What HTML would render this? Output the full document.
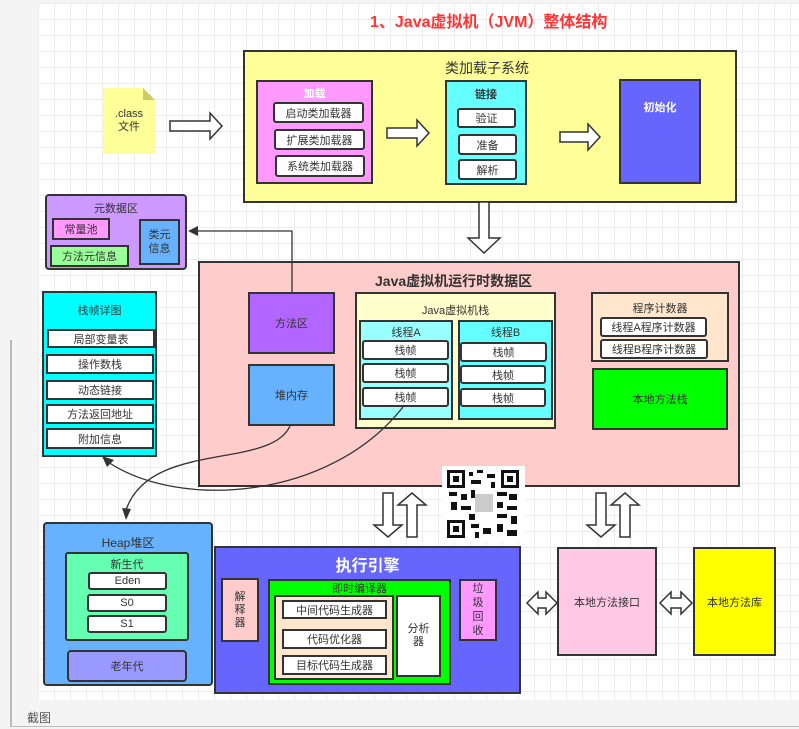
<!DOCTYPE html><html><head><meta charset="utf-8"><style>
body{margin:0;width:799px;height:729px;background:#f4f4f4;position:relative;overflow:hidden;font-family:"Liberation Sans","Noto Sans CJK SC",sans-serif;color:#333;}
.grid{position:absolute;left:38px;top:3px;width:761px;height:697px;background-color:#fff;background-image:linear-gradient(#ececec 1px,transparent 1px),linear-gradient(90deg,#ececec 1px,transparent 1px);background-size:16px 16px;}
.b{position:absolute;box-sizing:border-box;border:2px solid #333;font-size:11px;text-align:center;}
.w{background:#fff;border-radius:3px;display:flex;align-items:center;justify-content:center;}
.t{position:absolute;left:0;right:0;text-align:center;}
.c{display:flex;align-items:center;justify-content:center;}
</style></head><body>
<div class="grid"></div>
<div style="position:absolute;left:10px;top:340px;width:2px;height:386px;background:#bbb"></div>
<div style="position:absolute;left:10px;top:726px;width:789px;height:1px;background:#bbb"></div>
<div style="position:absolute;left:27px;top:709px;font-size:12px;color:#555">截图</div>
<div style="position:absolute;left:370px;top:8px;font-size:16px;font-weight:bold;color:#ff3333">1、Java虚拟机（JVM）整体结构</div>

<!-- class file -->
<svg style="position:absolute;left:0;top:0" width="799" height="729">
<path d="M103 88 H143 L155 100 V154 H103Z" fill="#ffff99"/><path d="M143 88 L155 100 H143Z" fill="#cccc66"/>
</svg>
<div style="position:absolute;left:103px;top:108px;width:52px;text-align:center;font-size:11px;line-height:13px">.class<br>文件</div>

<div class="b" style="left:243px;top:50px;width:494px;height:153px;background:#ffff99"></div>
<div style="position:absolute;left:445px;top:58px;font-size:14px">类加载子系统</div>
<div class="b" style="left:256px;top:80px;width:117px;height:104px;background:#ff99ff"><div class="t" style="top:3px;color:#fff;font-weight:bold">加载</div></div>
<div class="b w" style="left:273px;top:102px;width:91px;height:21px">启动类加载器</div>
<div class="b w" style="left:274px;top:129px;width:91px;height:21px">扩展类加载器</div>
<div class="b w" style="left:275px;top:155px;width:90px;height:22px">系统类加载器</div>
<div class="b" style="left:445px;top:80px;width:82px;height:105px;background:#66ffff"><div class="t" style="top:4px;font-weight:bold">链接</div></div>
<div class="b w" style="left:457px;top:108px;width:59px;height:20px">验证</div>
<div class="b w" style="left:458px;top:134px;width:59px;height:21px">准备</div>
<div class="b w" style="left:458px;top:159px;width:59px;height:21px">解析</div>
<div class="b" style="left:619px;top:79px;width:82px;height:105px;background:#6666ff"><div class="t" style="top:18px;color:#fff;font-weight:bold">初始化</div></div>

<!-- metadata -->
<div class="b" style="left:45px;top:194px;width:142px;height:76px;background:#cc99ff;border-radius:4px"><div class="t" style="top:4px">元数据区</div></div>
<div class="b c" style="left:52px;top:218px;width:58px;height:22px;background:#ff99ff">常量池</div>
<div class="b c" style="left:50px;top:245px;width:79px;height:22px;background:#99ff99">方法元信息</div>
<div class="b c" style="left:139px;top:219px;width:41px;height:46px;background:#66b2ff;line-height:14px">类元<br>信息</div>

<!-- runtime -->
<div class="b" style="left:198px;top:261px;width:542px;height:226px;background:#ffcccc"></div>
<div style="position:absolute;left:375px;top:271px;font-size:14px;font-weight:bold">Java虚拟机运行时数据区</div>
<div class="b c" style="left:248px;top:292px;width:87px;height:62px;background:#b266ff">方法区</div>
<div class="b c" style="left:248px;top:364px;width:87px;height:62px;background:#66b2ff">堆内存</div>
<div class="b" style="left:355px;top:292px;width:201px;height:137px;background:#ffffcc"><div class="t" style="top:8px">Java虚拟机栈</div></div>
<div class="b" style="left:359px;top:320px;width:94px;height:100px;background:#99ffff"><div class="t" style="top:2px">线程A</div></div>
<div class="b w" style="left:362px;top:340px;width:87px;height:20px">栈帧</div>
<div class="b w" style="left:362px;top:363px;width:87px;height:20px">栈帧</div>
<div class="b w" style="left:362px;top:387px;width:87px;height:20px">栈帧</div>
<div class="b" style="left:458px;top:320px;width:95px;height:100px;background:#66ffff"><div class="t" style="top:2px">线程B</div></div>
<div class="b w" style="left:460px;top:342px;width:87px;height:20px">栈帧</div>
<div class="b w" style="left:460px;top:365px;width:86px;height:19px">栈帧</div>
<div class="b w" style="left:460px;top:388px;width:86px;height:19px">栈帧</div>
<div class="b" style="left:591px;top:292px;width:138px;height:70px;background:#ffe6cc"><div class="t" style="top:6px">程序计数器</div></div>
<div class="b w" style="left:600px;top:317px;width:107px;height:20px">线程A程序计数器</div>
<div class="b w" style="left:600px;top:339px;width:108px;height:20px">线程B程序计数器</div>
<div class="b c" style="left:592px;top:368px;width:136px;height:62px;background:#00ff00">本地方法栈</div>

<!-- stack frame detail -->
<div class="b" style="left:42px;top:291px;width:115px;height:166px;background:#00ffff"><div class="t" style="top:9px">栈帧详图</div></div>
<div class="b w" style="left:47px;top:329px;width:108px;height:19px;border-radius:0">局部变量表</div>
<div class="b w" style="left:46px;top:354px;width:108px;height:20px;border-radius:0">操作数栈</div>
<div class="b w" style="left:46px;top:380px;width:108px;height:20px;border-radius:0">动态链接</div>
<div class="b w" style="left:46px;top:404px;width:108px;height:20px;border-radius:0">方法返回地址</div>
<div class="b w" style="left:46px;top:428px;width:108px;height:21px;border-radius:0">附加信息</div>

<!-- heap -->
<div class="b" style="left:43px;top:522px;width:170px;height:164px;background:#66b2ff;border-radius:4px"><div class="t" style="top:10px;font-size:12px">Heap堆区</div></div>
<div class="b" style="left:65px;top:552px;width:124px;height:89px;background:#66ffb2;border-radius:3px"><div class="t" style="top:2px">新生代</div></div>
<div class="b w" style="left:88px;top:572px;width:79px;height:18px">Eden</div>
<div class="b w" style="left:87px;top:594px;width:80px;height:18px">S0</div>
<div class="b w" style="left:87px;top:615px;width:80px;height:18px">S1</div>
<div class="b c" style="left:67px;top:650px;width:120px;height:32px;background:#9999ff;border-radius:4px">老年代</div>

<!-- execution engine -->
<div class="b" style="left:214px;top:546px;width:307px;height:148px;background:#6666ff"><div class="t" style="top:4px;color:#fff;font-weight:bold;font-size:16px">执行引擎</div></div>
<div class="b c" style="left:221px;top:578px;width:38px;height:64px;background:#ffcccc;line-height:13px">解<br>释<br>器</div>
<div class="b" style="left:268px;top:579px;width:183px;height:106px;background:#00ff00"><div class="t" style="top:-1px">即时编译器</div></div>
<div class="b" style="left:274px;top:595px;width:120px;height:85px;background:#ffe6cc"></div>
<div class="b w" style="left:282px;top:600px;width:105px;height:19px;border-radius:0">中间代码生成器</div>
<div class="b w" style="left:282px;top:629px;width:105px;height:20px;border-radius:0">代码优化器</div>
<div class="b w" style="left:282px;top:655px;width:105px;height:20px;border-radius:0">目标代码生成器</div>
<div class="b c" style="left:396px;top:595px;width:45px;height:82px;background:#fff;line-height:13px">分析<br>器</div>
<div class="b c" style="left:459px;top:579px;width:38px;height:62px;background:#ff99ff;line-height:14px">垃<br>圾<br>回<br>收</div>

<div class="b c" style="left:557px;top:547px;width:100px;height:109px;background:#ffc9e6">本地方法接口</div>
<div class="b c" style="left:693px;top:547px;width:83px;height:109px;background:#ffff00">本地方法库</div>

<svg style="position:absolute;left:0;top:0" width="799" height="729" fill="#fff" stroke="#333" stroke-width="1.5">
<path d="M170 121 H210 V113 L222 126 L210 139 V131 H170Z"/>
<path d="M387 128 H417 V120 L429 133 L417 146 V138 H387Z"/>
<path d="M560 132 H588 V124 L600 137 L588 150 V142 H560Z"/>
<path d="M479 202 H489 V238 H500 L484 253 L468 238 H479Z"/>
<!-- vertical arrows -->
<path d="M383 493 H393 V525 H402 L388 537 L374 525 H383Z"/>
<path d="M407 537 H417 V505 H426 L412 493 L398 505 H407Z"/>
<path d="M596 493 H606 V525 H615 L601 537 L587 525 H596Z"/>
<path d="M620 537 H630 V505 H639 L625 493 L611 505 H620Z"/>
<!-- double arrows -->
<path d="M527 603 L538 592 V598 H546 V592 L557 603 L546 614 V608 H538 V614Z"/>
<path d="M660 603 L671 592 V598 H681 V592 L692 603 L681 614 V608 H671 V614Z"/>
<!-- connectors -->
<g fill="none" stroke="#333" stroke-width="1.3">
<path d="M292 292 V231 H196"/>
<path d="M290 426 C270 470 150 440 126 510"/>
<path d="M403 407 C330 500 180 510 108 462"/>
</g>
<g fill="#333" stroke="none">
<path d="M188 231 L198 226 L198 236Z"/>
<path d="M126 520 L122 508 L131 509Z"/>
<path d="M102 456 L114 460 L107 467Z"/>
</g>
</svg>

<!-- QR -->
<div style="position:absolute;left:442px;top:466px;width:83px;height:75px;background:#fff"></div>
<svg style="position:absolute;left:447px;top:470px" width="72" height="68">
<g fill="#111">
<rect x="0" y="0" width="18" height="18"/><rect x="3" y="3" width="12" height="12" fill="#fff"/><rect x="6" y="6" width="6" height="6"/>
<rect x="54" y="0" width="18" height="18"/><rect x="57" y="3" width="12" height="12" fill="#fff"/><rect x="60" y="6" width="6" height="6"/>
<rect x="0" y="50" width="18" height="18"/><rect x="3" y="53" width="12" height="12" fill="#fff"/><rect x="6" y="56" width="6" height="6"/>
<rect x="22" y="2" width="4" height="4"/><rect x="30" y="0" width="6" height="3"/><rect x="40" y="4" width="8" height="4"/><rect x="24" y="10" width="10" height="4"/><rect x="44" y="12" width="4" height="6"/>
<rect x="2" y="22" width="8" height="4"/><rect x="14" y="24" width="6" height="6"/><rect x="24" y="20" width="4" height="8"/><rect x="50" y="22" width="10" height="4"/><rect x="62" y="24" width="8" height="6"/>
<rect x="4" y="32" width="6" height="8"/><rect x="14" y="36" width="10" height="4"/><rect x="50" y="32" width="6" height="6"/><rect x="60" y="36" width="10" height="4"/>
<rect x="22" y="44" width="6" height="6"/><rect x="50" y="44" width="10" height="4"/><rect x="64" y="46" width="6" height="8"/><rect x="24" y="54" width="8" height="4"/><rect x="36" y="58" width="8" height="6"/><rect x="50" y="54" width="6" height="8"/><rect x="60" y="60" width="10" height="6"/><rect x="28" y="62" width="4" height="6"/>
<rect x="28" y="24" width="18" height="18" fill="#ccc"/>
</g></svg>
</body></html>
